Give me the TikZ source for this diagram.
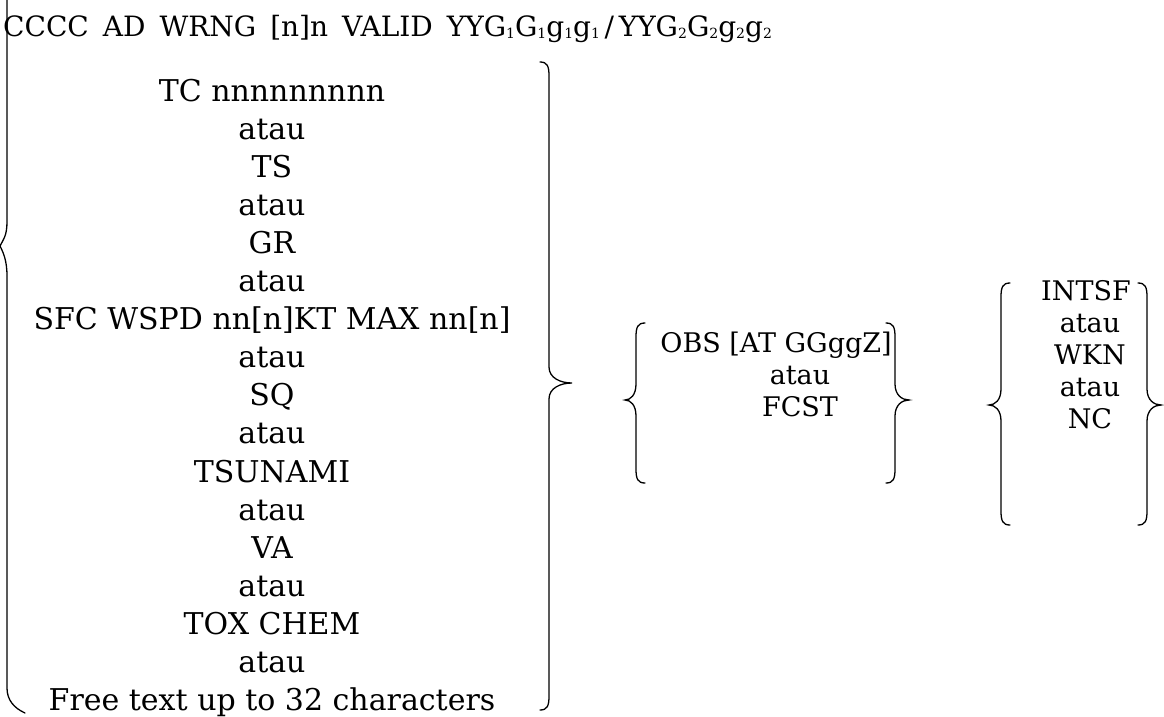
\documentclass[tikz,border=0pt]{standalone}
\usepackage{fontspec}
\setmainfont{DejaVu Serif}
\newcommand{\sbs}[1]{{\fontsize{14}{14}\selectfont\raisebox{-2pt}{#1}}}
% right brace: x of hook end, top y, tip y, bottom y, offset to stem, tip amplitude
\newcommand{\RBr}[6]{%
  \draw[bracestyle] (#1,#2) .. controls ({#1+0.8*#5},#2) and ({#1+#5},{#2+4}) .. ({#1+#5},{#2+14})
   -- ({#1+#5},{#3-16}) .. controls ({#1+#5},{#3-5}) and ({#1+#5+0.5*#6},#3) .. ({#1+#5+#6},#3)
   .. controls ({#1+#5+0.5*#6},#3) and ({#1+#5},{#3+5}) .. ({#1+#5},{#3+16})
   -- ({#1+#5},{#4-14}) .. controls ({#1+#5},{#4-4}) and ({#1+0.8*#5},#4) .. (#1,#4);}
\newcommand{\LBr}[6]{%
  \draw[bracestyle] (#1,#2) .. controls ({#1-0.8*#5},#2) and ({#1-#5},{#2+4}) .. ({#1-#5},{#2+14})
   -- ({#1-#5},{#3-16}) .. controls ({#1-#5},{#3-5}) and ({#1-#5-0.5*#6},#3) .. ({#1-#5-#6},#3)
   .. controls ({#1-#5-0.5*#6},#3) and ({#1-#5},{#3+5}) .. ({#1-#5},{#3+16})
   -- ({#1-#5},{#4-14}) .. controls ({#1-#5},{#4-4}) and ({#1-0.8*#5},#4) .. (#1,#4);}
\tikzset{
  bracestyle/.style={line width=1.3pt, line cap=round},
  item/.style={inner sep=0pt, font=\fontsize{30}{30}\selectfont, anchor=base},
  gitem/.style={inner sep=0pt, font=\fontsize{27}{27}\selectfont, anchor=base},
  head/.style={inner sep=0pt, font=\fontsize{28}{28}\selectfont, anchor=base west}
}
\begin{document}
\begin{tikzpicture}[x=1pt,y=-1pt]
\useasboundingbox (0,0) rectangle (1164,717);
\fill[white] (0,0) rectangle (1164,717);
% header
\node[head] (hdr) at (3,37) {CCCC\hspace{0.5em}AD\hspace{0.5em}WRNG\hspace{0.5em}[n]n\hspace{0.5em}VALID\hspace{0.5em}YYG\sbs{1}G\sbs{1}g\sbs{1}g\sbs{1}\,/\,YYG\sbs{2}G\sbs{2}g\sbs{2}g\sbs{2}};
% big left brace (top cut off)
\draw[bracestyle] (7,0) -- (7,222) .. controls (7,236) and (3,240) .. (0,246)
  .. controls (3,252) and (7,260) .. (7,276) -- (7,688) .. controls (7,700) and (14,708) .. (25,713);
% list
\foreach \t [count=\i from 0] in {TC nnnnnnnnn,atau,TS,atau,GR,atau,SFC WSPD nn[n]KT MAX nn[n],atau,SQ,atau,TSUNAMI,atau,VA,atau,TOX CHEM,atau,Free text up to 32 characters}
  \node[item] (l\i) at (272,{101+\i*38.1}) {\t};
\RBr{540}{62}{383}{710}{9}{23}
% middle group
\node[gitem] (obs) at (776,352) {OBS [AT GGggZ]};
\node[gitem] (oa) at (800,384) {atau};
\node[gitem] (fc) at (800,416) {FCST};
\LBr{645}{323}{400}{483}{9}{11}
\RBr{886}{323}{400}{483}{9}{14}
% right group
\node[gitem] (in) at (1086,300) {INTSF};
\node[gitem] (ra1) at (1090,332) {atau};
\node[gitem] (wk) at (1090,364) {WKN};
\node[gitem] (ra2) at (1090,396) {atau};
\node[gitem] (nc) at (1090,428) {NC};
\LBr{1010}{283}{405}{525}{9}{12}
\RBr{1138}{283}{405}{525}{9}{14}
\end{tikzpicture}
\end{document}
